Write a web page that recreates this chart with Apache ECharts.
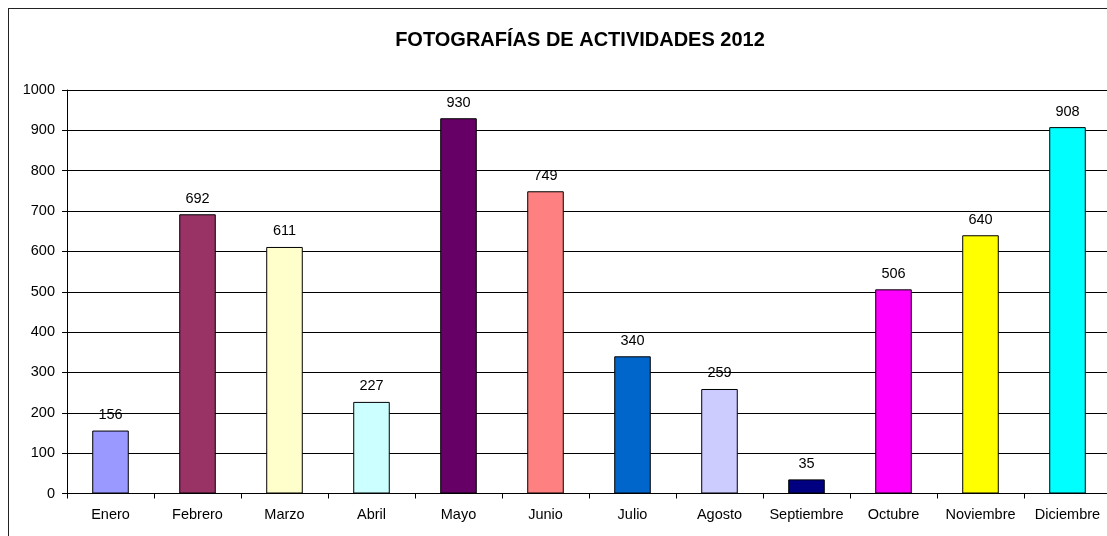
<!DOCTYPE html>
<html><head><meta charset="utf-8">
<script src="https://cdn.jsdelivr.net/npm/echarts@6/dist/echarts.min.js"></script>
<style>
html,body{margin:0;padding:0;overflow:hidden;background:#fff;width:1107px;height:536px;}
#frame{position:absolute;left:8px;top:8px;width:1200px;height:600px;border:1px solid #222;box-sizing:border-box;}
#c{position:absolute;left:0;top:0;width:1125px;height:540px;}
</style></head>
<body>
<div id="frame"></div>
<div id="c"></div>
<script>
const categories = ['Enero','Febrero','Marzo','Abril','Mayo','Junio','Julio','Agosto','Septiembre','Octubre','Noviembre','Diciembre'];
const values = [156, 692, 611, 227, 930, 749, 340, 259, 35, 506, 640, 908];
const barColors = ['#9999FF','#993366','#FFFFCC','#CCFFFF','#660066','#FF8080','#0066CC','#CCCCFF','#000080','#FF00FF','#FFFF00','#00FFFF'];
const yTicks = [0,100,200,300,400,500,600,700,800,900,1000];
const titleText = 'FOTOGRAFÍAS DE ACTIVIDADES 2012';

const chart = echarts.init(document.getElementById('c'), null, {renderer:'canvas'});
const font = 'Liberation Sans, Arial, sans-serif';
chart.setOption({
  animation:false,
  backgroundColor:'transparent',
  title:{text:titleText,left:575,top:25,textAlign:'center',
    textStyle:{fontFamily:font,fontSize:20,fontWeight:'bold',color:'#000'}},
  grid:{left:67,top:90,right:14,bottom:46.5,containLabel:false},
  xAxis:{type:'category',data:categories,boundaryGap:true,
    axisLine:{lineStyle:{color:'#000',width:1}},
    axisTick:{show:true,inside:false,length:5,alignWithLabel:false,lineStyle:{color:'#000'}},
    axisLabel:{fontFamily:font,fontSize:14.5,color:'#000',margin:14,interval:0},
    splitLine:{show:false}},
  yAxis:{type:'value',min:yTicks[0],max:yTicks[yTicks.length-1],interval:100,
    axisLine:{show:true,lineStyle:{color:'#000',width:1}},
    axisTick:{show:true,length:5,lineStyle:{color:'#000'}},
    axisLabel:{fontFamily:font,fontSize:14.5,color:'#000',margin:12,formatter:v=>String(v)},
    splitLine:{show:true,lineStyle:{color:'#000',width:1}}},
  series:[{type:'bar',barWidth:'42%',
    data:values.map((v,i)=>({value:v,itemStyle:{color:barColors[i]}})),
    itemStyle:{borderColor:'#000',borderWidth:1},
    label:{show:true,position:'top',distance:8,fontFamily:font,fontSize:14.5,color:'#000'}
  }]
});
</script>
</body></html>
